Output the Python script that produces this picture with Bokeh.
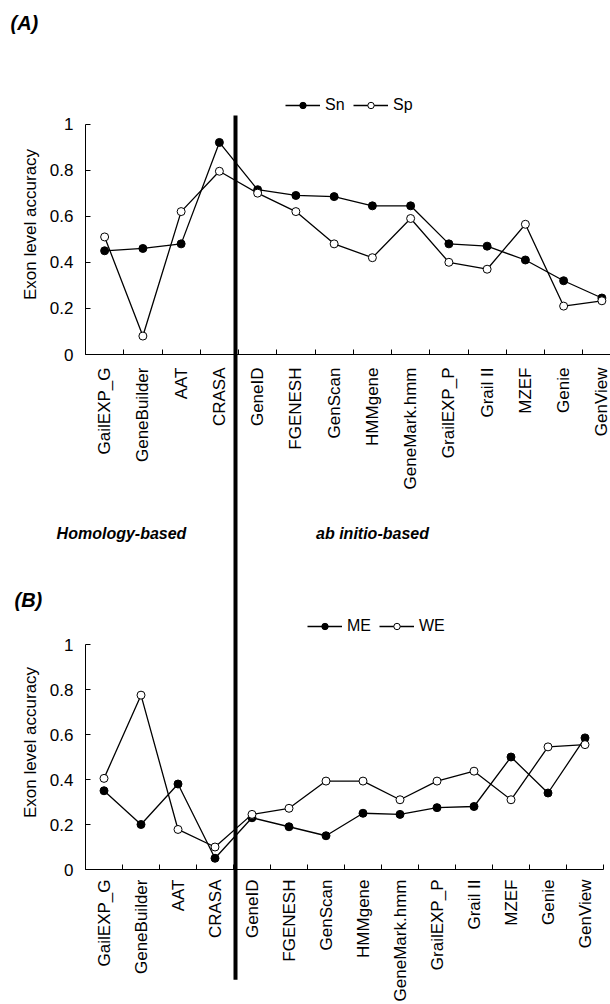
import math
from bokeh.plotting import figure
from bokeh.layouts import column
from bokeh.models import (Range1d, FixedTicker, NumeralTickFormatter, Legend, LegendItem)
from bokeh.core.properties import value
from bokeh.embed import file_html
from bokeh.resources import INLINE

categories = ["GailEXP_G", "GeneBuilder", "AAT", "CRASA", "GeneID", "FGENESH", "GenScan",
              "HMMgene", "GeneMark.hmm", "GrailEXP_P", "Grail II", "MZEF", "Genie", "GenView"]
sn = [0.45, 0.46, 0.48, 0.92, 0.715, 0.69, 0.685, 0.645, 0.645, 0.48, 0.47, 0.41, 0.32, 0.245]
sp = [0.51, 0.08, 0.62, 0.795, 0.70, 0.62, 0.48, 0.42, 0.59, 0.40, 0.37, 0.565, 0.21, 0.233]
me = [0.35, 0.20, 0.38, 0.05, 0.23, 0.19, 0.15, 0.25, 0.245, 0.275, 0.28, 0.50, 0.34, 0.585]
we = [0.405, 0.775, 0.178, 0.10, 0.245, 0.272, 0.393, 0.393, 0.31, 0.393, 0.437, 0.31, 0.545, 0.555]
y_ticks = [0, 0.2, 0.4, 0.6, 0.8, 1]

FONT = "Liberation Sans"
N = len(categories)
xc = [i + 0.5 for i in range(N)]

LEFT = 85          # shared frame left edge (plots in a column get aligned)
TOP_STEP = 38.25   # px per category, panel A
BOT_STEP = 37.0    # px per category, panel B
DIVIDER_PX = 235   # page x of the thick separator line


def make_fig(height, top, bottom, x_end, y_end, label_standoff):
    p = figure(width=610, height=height, output_backend="svg", toolbar_location=None,
               x_range=Range1d(0, x_end), y_range=Range1d(0, y_end),
               min_border_left=LEFT, min_border_right=0,
               min_border_top=top, min_border_bottom=bottom)
    p.outline_line_color = None
    p.grid.visible = False
    xa = p.xaxis[0]
    xa.ticker = FixedTicker(ticks=xc, minor_ticks=list(range(N + 1)))
    xa.major_label_overrides = {c: lab for c, lab in zip(xc, categories)}
    xa.bounds = (0, N)
    xa.major_tick_line_color = None
    xa.major_tick_in = 0
    xa.major_tick_out = 0
    xa.minor_tick_in = 5
    xa.minor_tick_out = 0
    xa.minor_tick_line_color = "black"
    xa.axis_line_color = "black"
    xa.major_label_orientation = math.pi / 2
    xa.major_label_text_font = FONT
    xa.major_label_text_font_size = "17px"
    xa.major_label_text_color = "black"
    xa.major_label_standoff = label_standoff
    ya = p.yaxis[0]
    ya.ticker = FixedTicker(ticks=y_ticks, minor_ticks=[])
    ya.formatter = NumeralTickFormatter(format="0.[0]")
    ya.bounds = (0, 1)
    ya.major_tick_in = 5
    ya.major_tick_out = 0
    ya.minor_tick_line_color = None
    ya.axis_line_color = "black"
    ya.major_tick_line_color = "black"
    ya.major_label_text_font = FONT
    ya.major_label_text_font_size = "17px"
    ya.major_label_text_color = "black"
    ya.major_label_standoff = 12
    ya.axis_label = "Exon level accuracy"
    ya.axis_label_text_font = FONT
    ya.axis_label_text_font_style = "normal"
    ya.axis_label_text_font_size = "17px"
    ya.axis_label_text_color = "black"
    ya.axis_label_standoff = 7
    return p


def add_series(p, a, b, names, legend_xy):
    la = p.line(xc, a, line_color="black", line_width=1.3)
    ca = p.scatter(xc, a, marker="circle", size=8, fill_color="black", line_color="black", line_width=1)
    lb = p.line(xc, b, line_color="black", line_width=1.3)
    cb = p.scatter(xc, b, marker="circle", size=8, fill_color="white", line_color="black", line_width=1)
    legend = Legend(items=[LegendItem(label=names[0], renderers=[la, ca]),
                           LegendItem(label=names[1], renderers=[lb, cb])],
                    orientation="horizontal", location=legend_xy,
                    glyph_width=35, glyph_height=16, label_height=16, label_standoff=5,
                    spacing=8, padding=0, margin=0, border_line_color=None,
                    background_fill_alpha=0, label_text_font=FONT,
                    label_text_font_size="16px", label_text_color="black")
    p.add_layout(legend)


def italic_text(p, x, y, text, size, align):
    p.text(x=[x], y=[y], text=[text], text_font=value(FONT), text_font_style="bold italic",
           text_font_size=size, text_align=align, text_baseline="middle",
           text_color="black", level="overlay")


def divider(p, step, y0, y1):
    xd = (DIVIDER_PX - LEFT) / step
    p.segment(x0=[xd], y0=[y0], x1=[xd], y1=[y1], line_color="black", line_width=4, level="overlay")


# ---- (A) ----
top = make_fig(568, 94, 214, (610 - LEFT) / TOP_STEP, 1.128, 13)
add_series(top, sn, sp, ("Sn", "Sp"), (200, 240))
divider(top, TOP_STEP, 1.037, -2.0)
italic_text(top, (10 - LEFT) / TOP_STEP, 1.44, "(A)", "20px", "left")
italic_text(top, (121 - LEFT) / TOP_STEP, -0.777, "Homology-based", "16px", "center")
italic_text(top, (372 - LEFT) / TOP_STEP, -0.777, "ab initio-based", "16px", "center")

# ---- (B) ----
bot = make_fig(436, 47, 135, (610 - LEFT) / BOT_STEP, 1.129, 10)
add_series(bot, me, we, ("ME", "WE"), (222, 234))
divider(bot, BOT_STEP, 2.0, -0.49)
italic_text(bot, (14 - LEFT) / BOT_STEP, 1.196, "(B)", "20px", "left")

layout = column(top, bot, spacing=0)
open("out.html", "w").write(file_html(layout, INLINE))
